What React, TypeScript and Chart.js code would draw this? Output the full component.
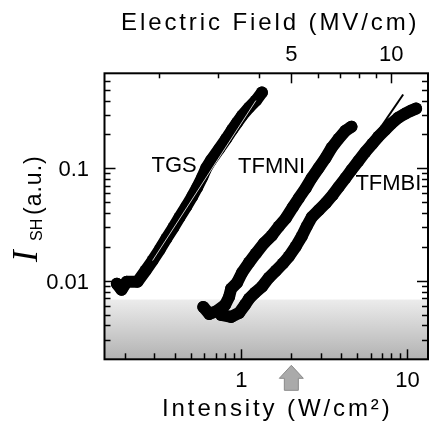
import React, { useEffect, useRef } from "react";
import { Chart, registerables } from "chart.js";

Chart.register(...registerables);

// ---- data ----
const tgsI = [0.178, 0.19, 0.204, 0.237, 0.265, 0.292, 0.322, 0.354, 0.39, 0.424, 0.467, 0.507, 0.543, 0.582, 0.615, 0.659, 0.736, 0.81, 0.88, 0.942, 1.01, 1.112, 1.224, 1.33];
const tgsV = [0.0094, 0.0083, 0.0098, 0.0098, 0.0123, 0.0151, 0.0189, 0.0238, 0.0298, 0.0366, 0.046, 0.0565, 0.068, 0.0836, 0.1006, 0.1187, 0.1489, 0.1829, 0.2203, 0.2544, 0.2939, 0.3466, 0.4004, 0.4721];

const tfmniI = [0.59, 0.641, 0.715, 0.799, 0.844, 0.868, 0.942, 1.01, 1.112, 1.224, 1.368, 1.527, 1.681, 1.852, 2.04, 2.216, 2.44, 2.651, 2.92, 3.216, 3.493, 3.846, 4.236, 4.601];
const tfmniV = [0.00585, 0.00506, 0.00539, 0.0061, 0.00719, 0.00848, 0.0096, 0.0118, 0.0145, 0.0175, 0.0215, 0.0253, 0.0304, 0.0359, 0.045, 0.0542, 0.0666, 0.0819, 0.1006, 0.1237, 0.152, 0.1829, 0.2158, 0.2343];

const tfmbiI = [0.756, 0.868, 0.969, 1.052, 1.112, 1.208, 1.33, 1.465, 1.614, 1.777, 1.931, 2.126, 2.31, 2.474, 2.651, 2.92, 3.216, 3.54, 3.846, 4.236, 4.601, 5.068, 5.582, 6.146, 6.676, 7.354, 7.988, 8.797, 9.687, 10.52, 11.27];
const tfmbiV = [0.00496, 0.00476, 0.00517, 0.0061, 0.0069, 0.00781, 0.00884, 0.01064, 0.01229, 0.0142, 0.0164, 0.02016, 0.02477, 0.03044, 0.03664, 0.04233, 0.0489, 0.05768, 0.06801, 0.08186, 0.09656, 0.1162, 0.1399, 0.165, 0.1906, 0.2203, 0.2492, 0.282, 0.3062, 0.3258, 0.3397];

// thin fit lines visible on the bands
const tgsFitI = [0.292, 1.224];
const tgsFitV = [0.0151, 0.4004];
const tfmbiFitI = [5.58, 9.426];
const tfmbiFitV = [0.1459, 0.453];

// curve labels
const labelNames = ["TGS", "TFMNI", "TFMBI"];
const labelI = [0.288, 0.955, 4.86];
const labelV = [0.105, 0.103, 0.0724];

// axes
const xMin = 0.15;
const xMax = 13.3;
const yMin = 0.002;
const yMax = 0.7;
const xTickLabels = [1, 10];
const yTickLabels = [0.01, 0.1];
const fieldTickLabels = [5, 10];
const fieldPerSqrtI = 5 / Math.sqrt(2); // E (MV/cm) = k * sqrt(I)
const arrowI = 2;
const shadeTop = 0.0068;

const FONT = "'Liberation Sans', Arial, Helvetica, sans-serif";

const pts = (xs: number[], ys: number[]) => xs.map((x, i) => ({ x, y: ys[i] }));

function minorValues(min: number, max: number) {
  const out: number[] = [];
  for (let e = Math.floor(Math.log10(min)) - 1; e <= Math.ceil(Math.log10(max)) + 1; e++) {
    for (let m = 1; m <= 9; m++) {
      const v = m * Math.pow(10, e);
      if (v > min * 1.0001 && v < max * 0.9999) out.push(+v.toPrecision(3));
    }
  }
  return out;
}

const decor = {
  id: "decor",
  beforeDatasetsDraw(chart: any) {
    const { ctx, chartArea: a, scales } = chart;
    const top = scales.y.getPixelForValue(shadeTop);
    const g = ctx.createLinearGradient(0, top, 0, a.bottom);
    g.addColorStop(0, "#ececec");
    g.addColorStop(1, "#b2b2b2");
    ctx.save();
    ctx.fillStyle = g;
    ctx.fillRect(a.left, top, a.right - a.left, a.bottom - top);
    ctx.restore();
  },
  afterDraw(chart: any) {
    const { ctx, chartArea: a, scales } = chart;
    const xs = scales.x;
    const x2 = scales.x2;
    const ys = scales.y;
    ctx.save();
    ctx.strokeStyle = "#000";
    ctx.lineWidth = 1.5;
    // y ticks (left and right, inward)
    for (const v of minorValues(yMin, yMax)) {
      const p = Math.round(ys.getPixelForValue(v)) + 0.5;
      const major = yTickLabels.some((t) => Math.abs(t - v) / t < 1e-6);
      const L = major ? 11 : 6;
      ctx.beginPath();
      ctx.moveTo(a.left, p); ctx.lineTo(a.left + L, p);
      ctx.moveTo(a.right, p); ctx.lineTo(a.right - L, p);
      ctx.stroke();
    }
    // bottom x ticks
    for (const v of minorValues(xMin, xMax)) {
      const p = Math.round(xs.getPixelForValue(v)) + 0.5;
      const major = xTickLabels.some((t) => Math.abs(t - v) / t < 1e-6);
      const L = major ? 10 : 6;
      ctx.beginPath();
      ctx.moveTo(p, a.bottom); ctx.lineTo(p, a.bottom - L);
      ctx.stroke();
    }
    // top field ticks
    for (const v of minorValues(x2.min, x2.max)) {
      if (v > 13) continue;
      const p = Math.round(x2.getPixelForValue(v)) + 0.5;
      const major = fieldTickLabels.some((t) => Math.abs(t - v) / t < 1e-6);
      const L = major ? 10 : 5;
      ctx.beginPath();
      ctx.moveTo(p, a.top); ctx.lineTo(p, a.top + L);
      ctx.stroke();
    }
    // frame
    ctx.lineWidth = 2;
    ctx.strokeRect(a.left, a.top, a.right - a.left, a.bottom - a.top);

    // tick labels
    ctx.fillStyle = "#000";
    ctx.font = `22px ${FONT}`;
    ctx.textBaseline = "alphabetic";
    ctx.textAlign = "center";
    xTickLabels.forEach((v) => ctx.fillText(String(v), xs.getPixelForValue(v), a.bottom + 28));
    fieldTickLabels.forEach((v) => ctx.fillText(String(v), x2.getPixelForValue(v), a.top - 12.5));
    ctx.textAlign = "right";
    yTickLabels.forEach((v) => ctx.fillText(String(v), a.left - 15.5, ys.getPixelForValue(v) + 8));

    // curve labels
    ctx.textBaseline = "middle";
    ctx.textAlign = "left";
    labelNames.forEach((n, i) => {
      ctx.fillText(n, xs.getPixelForValue(labelI[i]), ys.getPixelForValue(labelV[i]));
    });

    // axis titles
    ctx.textBaseline = "alphabetic";
    ctx.font = `24px ${FONT}`;
    (ctx as any).letterSpacing = "2.9px";
    ctx.fillText("Electric Field (MV/cm)", 121, 29.5);
    ctx.fillText("Intensity (W/cm²)", 162, 416);
    (ctx as any).letterSpacing = "0px";

    // y title (rotated)
    ctx.save();
    ctx.translate(37, 262);
    ctx.rotate(-Math.PI / 2);
    ctx.font = `italic 35px 'Liberation Serif', serif`;
    ctx.fillText("I", 0, 0);
    ctx.restore();
    ctx.save();
    ctx.translate(42, 241);
    ctx.rotate(-Math.PI / 2);
    ctx.font = `16px ${FONT}`;
    ctx.fillText("SH", 0, 0);
    ctx.restore();
    ctx.save();
    ctx.translate(41, 215);
    ctx.rotate(-Math.PI / 2);
    ctx.font = `23px ${FONT}`;
    (ctx as any).letterSpacing = "1px";
    ctx.fillText("(a.u.)", 0, 0);
    ctx.restore();

    // arrow marker under the x axis
    const ax = xs.getPixelForValue(arrowI);
    const y0 = a.bottom + 6;
    ctx.beginPath();
    ctx.moveTo(ax, y0);
    ctx.lineTo(ax + 12, y0 + 13);
    ctx.lineTo(ax + 7, y0 + 13);
    ctx.lineTo(ax + 7, y0 + 25);
    ctx.lineTo(ax - 7, y0 + 25);
    ctx.lineTo(ax - 7, y0 + 13);
    ctx.lineTo(ax - 12, y0 + 13);
    ctx.closePath();
    ctx.fillStyle = "#aaaaaa";
    ctx.fill();
    ctx.strokeStyle = "#8a8a8a";
    ctx.lineWidth = 1;
    ctx.stroke();
    ctx.restore();
  },
};

export default function App() {
  const ref = useRef<HTMLCanvasElement | null>(null);
  useEffect(() => {
    if (!ref.current) return;
    const series = (data: any[]) => ({
      data,
      showLine: true,
      borderColor: "#000",
      backgroundColor: "#000",
      borderWidth: 12,
      pointRadius: 6,
      pointBorderWidth: 0,
      borderJoinStyle: "round",
      borderCapStyle: "round",
      tension: 0,
    });
    const hiddenTicks = { display: false };
    const chart = new Chart(ref.current, {
      type: "scatter",
      data: {
        datasets: [
          { data: pts(tgsFitI, tgsFitV), showLine: true, borderColor: "rgba(255,255,255,0.8)", borderWidth: 1, pointRadius: 0 },
          { data: pts(tfmbiFitI, tfmbiFitV), showLine: true, borderColor: "#000", borderWidth: 2, pointRadius: 0 },
          series(pts(tgsI, tgsV)),
          series(pts(tfmniI, tfmniV)),
          series(pts(tfmbiI, tfmbiV)),
        ] as any,
      },
      options: {
        responsive: false,
        animation: false,
        events: [],
        layout: { padding: { left: 0, right: 4, top: 0, bottom: 0 } },
        plugins: { legend: { display: false }, tooltip: { enabled: false } },
        scales: {
          x: {
            type: "logarithmic",
            position: "bottom",
            min: xMin,
            max: xMax,
            grid: { display: false },
            border: { display: false },
            ticks: hiddenTicks,
            afterFit: (s: any) => { s.height = 65.7; },
          },
          x2: {
            type: "logarithmic",
            position: "top",
            min: fieldPerSqrtI * Math.sqrt(xMin),
            max: fieldPerSqrtI * Math.sqrt(xMax),
            grid: { display: false },
            border: { display: false },
            ticks: hiddenTicks,
            afterFit: (s: any) => { s.height = 73.3; },
          },
          y: {
            type: "logarithmic",
            position: "left",
            min: yMin,
            max: yMax,
            grid: { display: false },
            border: { display: false },
            ticks: hiddenTicks,
            afterFit: (s: any) => { s.width = 104.5; },
          },
        } as any,
      },
      plugins: [decor],
    });
    return () => chart.destroy();
  }, []);
  return (
    <canvas
      ref={ref}
      width={434}
      height={425}
      style={{ position: "fixed", left: 0, top: 0, width: 434, height: 425, display: "block" }}
    />
  );
}
